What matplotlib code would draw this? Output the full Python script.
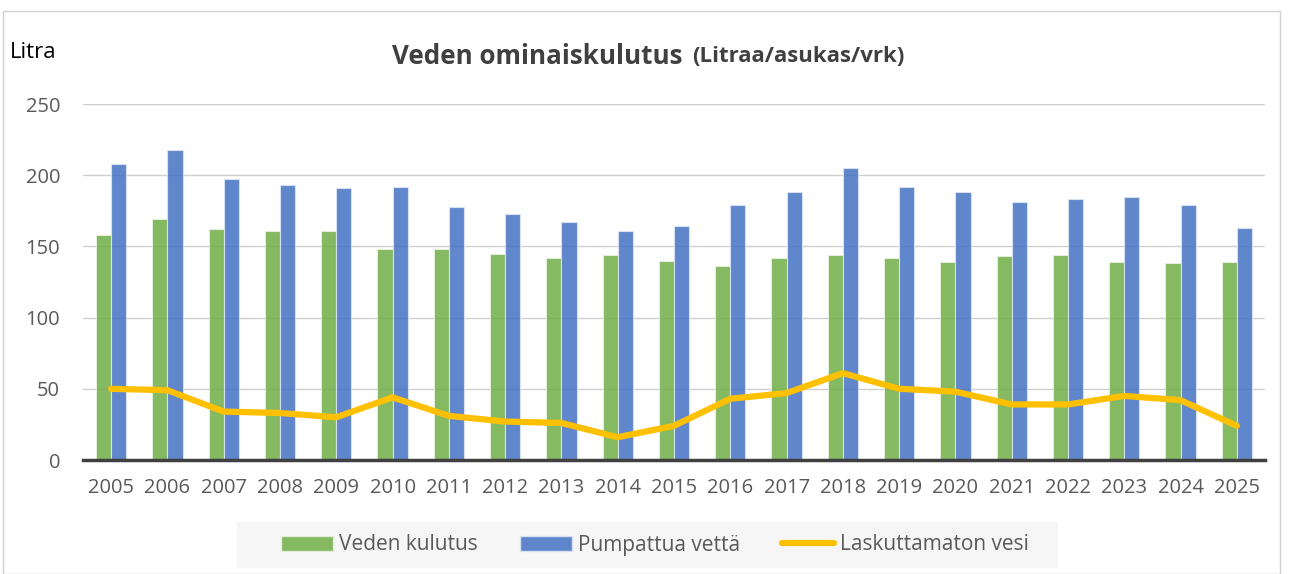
import numpy as np
import matplotlib.pyplot as plt
from matplotlib.patches import Rectangle, Patch
from matplotlib.lines import Line2D

plt.rcParams['font.family'] = ['Open Sans', 'DejaVu Sans']

# arvot luettu kuvasta (litraa/asukas/vrk)
vuodet = [str(v) for v in range(2005, 2026)]
veden_kulutus = [158, 169, 162, 161, 161, 148, 148, 145, 142, 144, 140,
                 136, 142, 144, 142, 139, 143, 144, 139, 138, 139]
pumpattua_vetta = [208, 218, 197, 193, 191, 192, 178, 173, 167, 161, 164,
                   179, 188, 205, 192, 188, 181, 183, 185, 179, 163]
laskuttamaton = [50, 49, 34, 33, 30, 44, 31, 27, 26, 16, 24,
                 43, 47, 61, 50, 48, 39, 39, 45, 42, 24]

vihrea = '#70AD47'
sininen = '#4472C4'
keltainen = '#FFC000'
teksti = '#595959'

W, H = 1291, 574
fig = plt.figure(figsize=(W / 100, H / 100), dpi=100)

# kaavion reunus
fig.patches.append(Rectangle((3 / W, 0), 1277 / W, (H - 11) / H,
                             transform=fig.transFigure, fill=False,
                             edgecolor='#d0d0d0', linewidth=1))
# selitteen tausta
fig.patches.append(Rectangle((237 / W, (H - 568) / H), 821 / W, 46 / H,
                             transform=fig.transFigure,
                             facecolor='#f6f6f6', edgecolor='none'))

ax = fig.add_axes([83 / W, 114 / H, 1182 / W, 356 / H])

x = np.arange(len(vuodet))
w = 0.27
ax.bar(x - w / 2, veden_kulutus, width=w, color=vihrea, alpha=0.85,
       edgecolor='#e8f2e0', linewidth=0.8, zorder=2)
ax.bar(x + w / 2, pumpattua_vetta, width=w, color=sininen, alpha=0.85,
       edgecolor='#dfe7f5', linewidth=0.8, zorder=2)
ax.plot(x, laskuttamaton, color=keltainen, linewidth=4.5,
        solid_capstyle='round', solid_joinstyle='round', zorder=3)

ax.set_xlim(-0.5, len(vuodet) - 0.5)
ax.set_ylim(0, 250)
ax.set_yticks(range(0, 251, 50))
ax.set_xticks(x)
ax.set_xticklabels(vuodet)
ax.tick_params(axis='both', length=0, labelsize=14.5, labelcolor=teksti)
ax.tick_params(axis='y', pad=16.5)
ax.tick_params(axis='x', pad=13)
ax.grid(axis='y', color='#d0d0d0', linewidth=1, zorder=0)
ax.set_axisbelow(True)
for s in ['left', 'right', 'top']:
    ax.spines[s].set_visible(False)
ax.spines['bottom'].set_color('#404040')
ax.spines['bottom'].set_linewidth(2.5)
ax.spines['bottom'].set_zorder(4)

# otsikot
fig.text(10 / W, 1 - 52 / H, 'Litra', fontsize=16, color='#000000',
         ha='left', va='center')
fig.text(683 / W, 1 - 56 / H, 'Veden ominaiskulutus',
         fontsize=18.7, fontweight='bold', color='#404040',
         ha='right', va='center')
fig.text(692 / W, 1 - 57 / H, '(Litraa/asukas/vrk)',
         fontsize=16, fontweight='bold', color='#404040',
         ha='left', va='center')

kahvat = [Patch(facecolor=vihrea, alpha=0.85, edgecolor='#e8f2e0'),
          Patch(facecolor=sininen, alpha=0.85, edgecolor='#dfe7f5'),
          Line2D([0], [0], color=keltainen, linewidth=4.5,
                 solid_capstyle='round')]
leg = fig.legend(kahvat, ['Veden kulutus', 'Pumpattua vettä',
                          'Laskuttamaton vesi'],
                 loc='center', bbox_to_anchor=(655 / W, 1 - 545 / H),
                 ncol=3, frameon=False, fontsize=15,
                 handlelength=2.5, handleheight=0.75, handletextpad=0.3,
                 columnspacing=2.0, borderpad=0.2, borderaxespad=0)
for t in leg.get_texts():
    t.set_color(teksti)

plt.savefig('out.png', dpi=100)
